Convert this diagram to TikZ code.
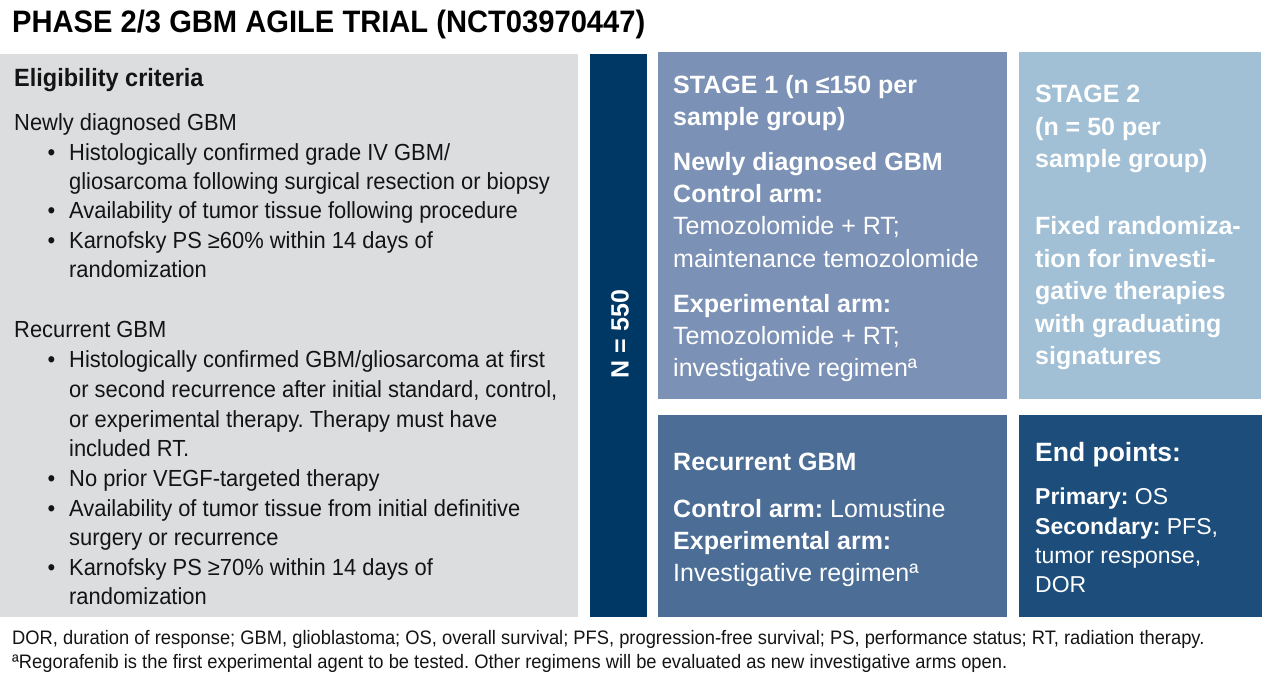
\documentclass[tikz,border=0pt]{standalone}
\usepackage{fontspec}
\setmainfont{Liberation Sans}
\newfontfamily\condf{Liberation Sans}[FakeStretch=0.94]
\frenchspacing
\definecolor{boxgray}{HTML}{DCDDDF}
\definecolor{navy}{HTML}{003865}
\definecolor{stageone}{HTML}{7B91B5}
\definecolor{stagetwo}{HTML}{A1BFD5}
\definecolor{recur}{HTML}{4B6D96}
\definecolor{endpt}{HTML}{1C4D7B}
\definecolor{ink}{HTML}{141414}
\newcommand{\bulmark}{\llap{\textbullet\hspace{14pt}}}
\tikzset{
  lt/.style={anchor=base west, inner sep=0pt, text=ink, font=\condf\fontsize{23.3}{28}\selectfont},
  lh/.style={anchor=base west, inner sep=0pt, text=ink, font=\condf\bfseries\fontsize{25}{30}\selectfont},
  st/.style={anchor=base west, inner sep=0pt, text=white, font=\fontsize{25}{30}\selectfont},
  sb/.style={st, font=\bfseries\fontsize{25}{30}\selectfont},
  et/.style={anchor=base west, inner sep=0pt, text=white, font=\fontsize{23}{28}\selectfont},
  eh/.style={et, font=\bfseries\fontsize{26.5}{30}\selectfont},
  fn/.style={anchor=base west, inner sep=0pt, text=ink, font=\condf\fontsize{19.5}{23}\selectfont},
}
\begin{document}
\begin{tikzpicture}[x=1pt,y=-1pt]
\useasboundingbox (0,0) rectangle (1264,692);
\fill[white] (0,0) rectangle (1264,692);
% boxes
\fill[boxgray] (0,54) rectangle (578,617);
\fill[navy] (590,54) rectangle (647,617);
\fill[stageone] (658,52) rectangle (1007,399);
\fill[stagetwo] (1019,52) rectangle (1261,399);
\fill[recur] (658,415) rectangle (1007,617);
\fill[endpt] (1019,415) rectangle (1262,617);
% title
\node[anchor=base west, inner sep=0pt, text=black, font=\condf\bfseries\fontsize{31}{36}\selectfont] (title) at (12,33) {PHASE 2/3 GBM AGILE TRIAL (NCT03970447)};
% left column
\node[lh] (l1) at (14,87) {Eligibility criteria};
\node[lt] (l2) at (14,131) {Newly diagnosed GBM};
\node[lt] (l3) at (69,161) {\bulmark Histologically confirmed grade IV GBM/};
\node[lt] (l4) at (69,190) {gliosarcoma following surgical resection or biopsy};
\node[lt] (l5) at (69,219) {\bulmark Availability of tumor tissue following procedure};
\node[lt] (l6) at (69,249) {\bulmark Karnofsky PS ≥60\% within 14 days of};
\node[lt] (l7) at (69,278) {randomization};
\node[lt] (l8) at (14,338) {Recurrent GBM};
\node[lt] (l9) at (69,368) {\bulmark Histologically confirmed GBM/gliosarcoma at first};
\node[lt] (l10) at (69,397.6) {or second recurrence after initial standard, control,};
\node[lt] (l11) at (69,427.2) {or experimental therapy. Therapy must have};
\node[lt] (l12) at (69,456.8) {included RT.};
\node[lt] (l13) at (69,486.4) {\bulmark No prior VEGF-targeted therapy};
\node[lt] (l14) at (69,516) {\bulmark Availability of tumor tissue from initial definitive};
\node[lt] (l15) at (69,545.6) {surgery or recurrence};
\node[lt] (l16) at (69,575.2) {\bulmark Karnofsky PS ≥70\% within 14 days of};
\node[lt] (l17) at (69,604.8) {randomization};
% N bar
\node[rotate=90, inner sep=0pt, text=white, font=\bfseries\fontsize{25}{30}\selectfont] (nbar) at (620,334) {N = 550};
% stage 1
\node[sb] (s1a) at (673,94) {STAGE 1 (n ≤150 per};
\node[sb] (s1b) at (673,126) {sample group)};
\node[sb] (s1c) at (673,171) {Newly diagnosed GBM};
\node[sb] (s1d) at (673,203) {Control arm:};
\node[st] (s1e) at (673,235) {Temozolomide + RT;};
\node[st] (s1f) at (673,267.5) {maintenance temozolomide};
\node[sb] (s1g) at (673,313) {Experimental arm:};
\node[st] (s1h) at (673,345) {Temozolomide + RT;};
\node[st] (s1i) at (673,377) {investigative regimenª};
% stage 2
\node[sb] (s2a) at (1035,103) {STAGE 2};
\node[sb] (s2b) at (1035,135.5) {(n = 50 per};
\node[sb] (s2c) at (1035,168) {sample group)};
\node[sb] (s2d) at (1035,235) {Fixed randomiza-};
\node[sb] (s2e) at (1035,267.5) {tion for investi-};
\node[sb] (s2f) at (1035,300) {gative therapies};
\node[sb] (s2g) at (1035,332.5) {with graduating};
\node[sb] (s2h) at (1035,365) {signatures};
% recurrent
\node[sb] (r1) at (673,471) {Recurrent GBM};
\node[st] (r2) at (673,517) {\textbf{Control arm:} Lomustine};
\node[sb] (r3) at (673,549) {Experimental arm:};
\node[st] (r4) at (673,581) {Investigative regimenª};
% end points
\node[eh] (e1) at (1035,461) {End points:};
\node[et] (e2) at (1035,504) {\textbf{Primary:} OS};
\node[et] (e3) at (1035,534) {\textbf{Secondary:} PFS,};
\node[et] (e4) at (1035,563) {tumor response,};
\node[et] (e5) at (1035,592) {DOR};
% footnotes
\node[fn] (f1) at (12,644) {DOR, duration of response; GBM, glioblastoma; OS, overall survival; PFS, progression-free survival; PS, performance status; RT, radiation therapy.};
\node[fn] (f2) at (12,668) {ªRegorafenib is the first experimental agent to be tested. Other regimens will be evaluated as new investigative arms open.};
\end{tikzpicture}
\end{document}
